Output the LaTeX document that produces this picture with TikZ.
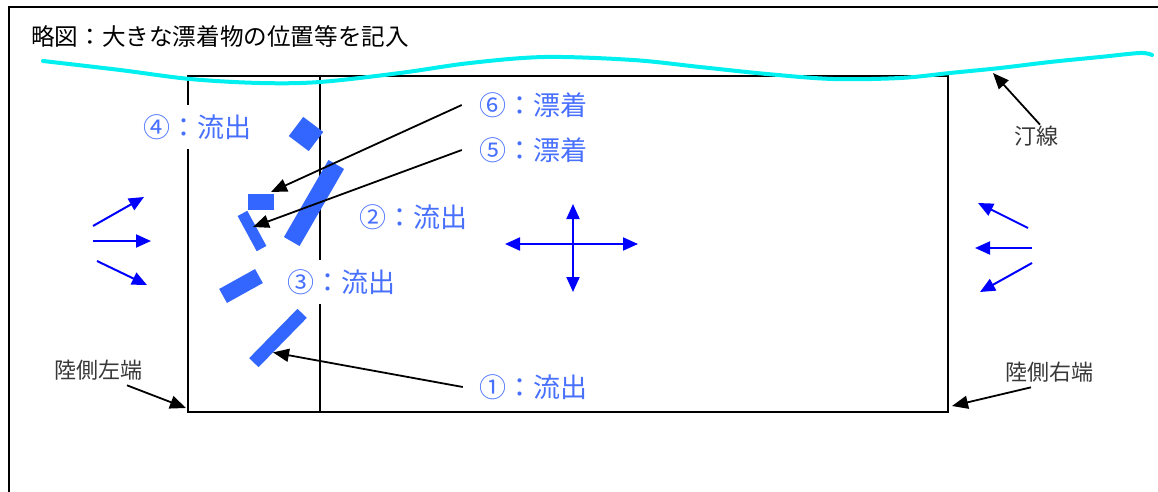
\documentclass[tikz,border=0pt]{standalone}
\usepackage{fontspec}
\newfontfamily\cjk{Noto Sans CJK JP}
\usetikzlibrary{arrows.meta,calc}
\definecolor{pblue}{RGB}{51,102,255}
\definecolor{tblue}{RGB}{72,112,255}
\definecolor{shorecol}{RGB}{0,240,240}
\begin{document}
\begin{tikzpicture}[x=1pt,y=-1pt,
  piece/.style={fill=pblue, draw=none, inner sep=0pt, outer sep=0pt},
  bluelbl/.style={fill=white, text=tblue, font=\cjk\fontsize{27}{27}\selectfont, inner xsep=3pt, inner ysep=9pt},
  blklbl/.style={text=black!78, font=\cjk\fontsize{22}{22}\selectfont, inner sep=1pt},
  blkarrow/.style={draw=black, line width=1.8pt, -{Triangle[length=16pt,width=13pt]}},
  bluearrow/.style={draw=blue, line width=2pt, -{Triangle[length=15pt,width=13pt]}},
  bluedbl/.style={draw=blue, line width=2pt, {Triangle[length=15pt,width=13pt]}-{Triangle[length=15pt,width=13pt]}},
]
\useasboundingbox (0,0) rectangle (1158,492);
\fill[white] (0,0) rectangle (1158,492);
% outer frame (top and left edges)
\draw[line width=2.2pt] (9,492) -- (9,7) -- (1158,7);
% title
\node[anchor=west, inner sep=0pt, font=\cjk\fontsize{23.6}{23.6}\selectfont] (title) at (31,36) {略図：大きな漂着物の位置等を記入};
% survey box
\node[draw, line width=2pt, minimum width=760pt, minimum height=336pt, inner sep=0pt] (box) at (568,244) {};
\draw[line width=1.5pt] ($(box.north west)+(133,0)$) -- ($(box.south west)+(133,0)$);
% shoreline
\draw[shorecol, line width=4pt, line cap=round] plot[smooth, tension=0.55] coordinates {(43,61) (120,70) (190,79) (260,83) (320,82) (400,73) (470,63) (545,57) (633,60) (700,67) (767,74) (833,79) (900,78) (950,73) (1000,68) (1050,62) (1100,57) (1140,53) (1152,55)};
\coordinate (shorept) at (993,73);
% debris pieces
\node[piece, minimum width=25pt, minimum height=24pt, rotate=-37] (p4) at (306,134) {};
\node[piece, minimum width=89pt, minimum height=18pt, rotate=60] (p2) at (314,203) {};
\node[piece, minimum width=26pt, minimum height=16pt] (p6) at (261,202) {};
\node[piece, minimum width=40pt, minimum height=11pt, rotate=-61.5] (p5) at (252,231) {};
\node[piece, minimum width=41pt, minimum height=16pt, rotate=29] (p3) at (241,286) {};
\node[piece, minimum width=69pt, minimum height=13pt, rotate=45.6] (p1) at (278,338) {};
% blue labels
\node[bluelbl] (l4) at (197,127) {④：流出};
\node[bluelbl] (l2) at (413,217) {②：流出};
\node[bluelbl] (l3) at (341,282) {③：流出};
\node[bluelbl] (l6) at (533,105) {⑥：漂着};
\node[bluelbl] (l5) at (533,150) {⑤：漂着};
\node[bluelbl] (l1) at (533,387) {①：流出};
% black labels
\node[blklbl] (tl) at (1036,136) {汀線};
\node[blklbl] (rr) at (1049,372) {陸側右端};
\node[blklbl] (ll) at (98,370) {陸側左端};
% leader arrows
\draw[blkarrow] ([xshift=-14pt]l6.west) -- ([shift={(-3pt,2pt)}]p6.north east);
\draw[blkarrow] ([xshift=-14pt]l5.west) -- ([shift={(1pt,4pt)}]p5.center);
\draw[blkarrow] ([xshift=-13pt]l1.west) -- ($(p1.south)!0.4!(p1.south west)$);
\draw[blkarrow] ([xshift=4pt]tl.north) -- (shorept);
\draw[blkarrow] ([shift={(-18pt,-4pt)}]rr.south) -- ([shift={(3pt,7pt)}]box.south east);
\draw[blkarrow] ([shift={(29pt,-4pt)}]ll.south) -- ([shift={(-1pt,5pt)}]box.south west);
% wave direction arrows
\coordinate (la1) at (93,226); \coordinate (la1t) at (144,197);
\coordinate (la2) at (93,241); \coordinate (la2t) at (151,241);
\coordinate (la3) at (97,261); \coordinate (la3t) at (147,285);
\coordinate (ra1) at (1028,228); \coordinate (ra1t) at (978,203);
\coordinate (ra2) at (1032,248); \coordinate (ra2t) at (975,248);
\coordinate (ra3) at (1032,263); \coordinate (ra3t) at (980,292);
\coordinate (cw) at (505,244); \coordinate (ce) at (638,244);
\coordinate (cn) at (573,204); \coordinate (cs) at (573,292);
\draw[bluearrow] (la1) -- (la1t);
\draw[bluearrow] (la2) -- (la2t);
\draw[bluearrow] (la3) -- (la3t);
\draw[bluearrow] (ra1) -- (ra1t);
\draw[bluearrow] (ra2) -- (ra2t);
\draw[bluearrow] (ra3) -- (ra3t);
\draw[bluedbl] (cw) -- (ce);
\draw[bluedbl] (cn) -- (cs);
\end{tikzpicture}
\end{document}
